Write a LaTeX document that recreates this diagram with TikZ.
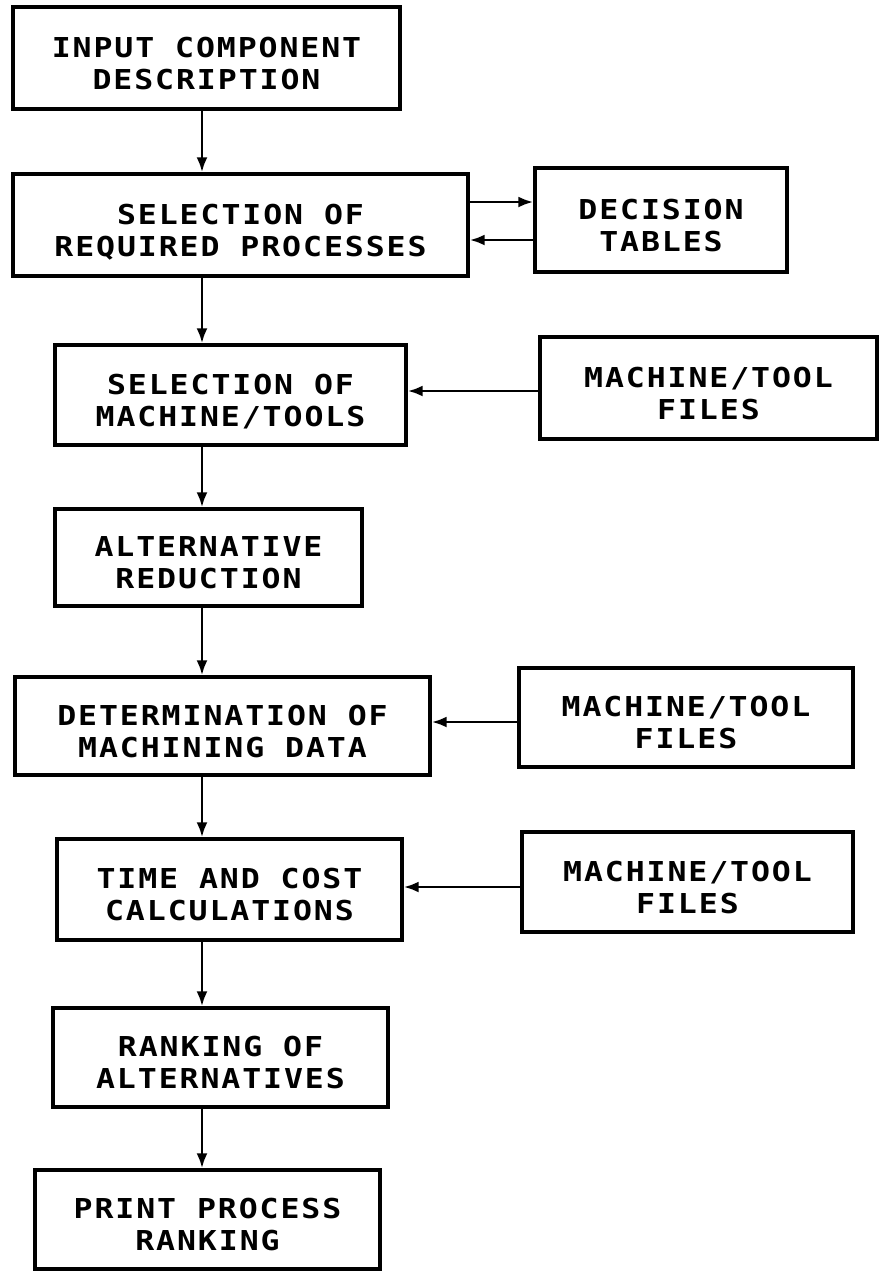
\documentclass[tikz,border=0pt]{standalone}
\usepackage{fontspec}
\newfontfamily\plotfont[FakeStretch=1.15,LetterSpace=7]{DejaVu Sans Mono}
\usetikzlibrary{arrows.meta}
\tikzset{
  box/.style={draw, line width=3.4bp, inner sep=0pt, align=center,
    font=\plotfont\bfseries\fontsize{27.5}{32}\selectfont,
    text height=62bp, text depth=0bp},
  flow/.style={line width=2.8bp, -{Latex[length=15bp,width=11bp]}},
}
\begin{document}
\begin{tikzpicture}[x=1bp,y=-1bp]
\useasboundingbox (0,0) rectangle (886,1271);

% main chain
\node[box, minimum width=387bp, minimum height=102bp] (inp)   at (206.5,58)    {INPUT COMPONENT\\DESCRIPTION};
\node[box, minimum width=455bp, minimum height=102bp] (req)   at (240.5,225)   {SELECTION OF\\REQUIRED PROCESSES};
\node[box, minimum width=351bp, minimum height=100bp] (mach)  at (230.5,395)   {SELECTION OF\\MACHINE/TOOLS};
\node[box, minimum width=307bp, minimum height=97bp]  (alt)   at (208.5,557.5) {ALTERNATIVE\\REDUCTION};
\node[box, minimum width=415bp, minimum height=98bp]  (det)   at (222.5,726)   {DETERMINATION OF\\MACHINING DATA};
\node[box, minimum width=345bp, minimum height=101bp] (tc)    at (229.5,889.5) {TIME AND COST\\CALCULATIONS};
\node[box, minimum width=335bp, minimum height=99bp]  (rank)  at (220.5,1057.5){RANKING OF\\ALTERNATIVES};
\node[box, minimum width=345bp, minimum height=99bp]  (print) at (207.5,1219.5){PRINT PROCESS\\RANKING};

% data sources
\node[box, minimum width=252bp, minimum height=104bp] (dec) at (661,220)   {DECISION\\TABLES};
\node[box, minimum width=337bp, minimum height=102bp] (f1)  at (708.5,388) {MACHINE/TOOL\\FILES};
\node[box, minimum width=334bp, minimum height=99bp]  (f2)  at (686,717.5) {MACHINE/TOOL\\FILES};
\node[box, minimum width=331bp, minimum height=100bp] (f3)  at (687.5,882) {MACHINE/TOOL\\FILES};

% connector guides
\coordinate (spine) at (202,0);
\coordinate (lvA) at (0,202);
\coordinate (lvB) at (0,240);
\coordinate (lvC) at (0,391);
\coordinate (lvD) at (0,722);
\coordinate (lvE) at (0,887);

% vertical flow
\draw[flow] (inp.south -| spine)  -- (req.north -| spine);
\draw[flow] (req.south -| spine)  -- (mach.north -| spine);
\draw[flow] (mach.south -| spine) -- (alt.north -| spine);
\draw[flow] (alt.south -| spine)  -- (det.north -| spine);
\draw[flow] (det.south -| spine)  -- (tc.north -| spine);
\draw[flow] (tc.south -| spine)   -- (rank.north -| spine);
\draw[flow] (rank.south -| spine) -- (print.north -| spine);

% side inputs
\draw[flow] (req.east |- lvA) -- (dec.west |- lvA);
\draw[flow] (dec.west |- lvB) -- (req.east |- lvB);
\draw[flow] (f1.west |- lvC)  -- (mach.east |- lvC);
\draw[flow] (f2.west |- lvD)  -- (det.east |- lvD);
\draw[flow] (f3.west |- lvE)  -- (tc.east |- lvE);
\end{tikzpicture}
\end{document}
